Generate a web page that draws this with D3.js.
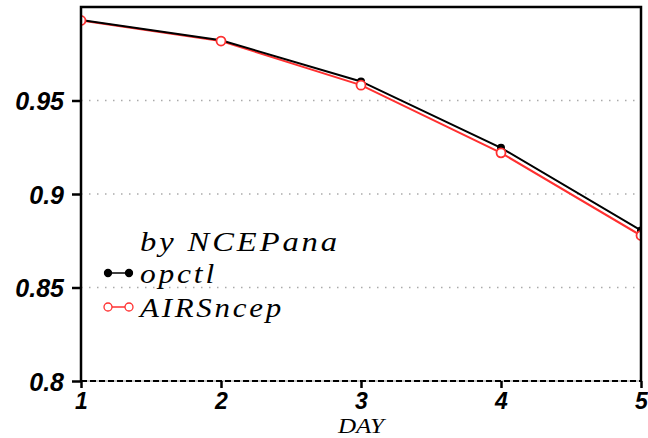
<!DOCTYPE html>
<html>
<head>
<meta charset="utf-8">
<script src="https://cdn.jsdelivr.net/npm/d3@7"></script>
<style>
  body { margin: 0; background: #fff; }
</style>
</head>
<body>
<script>
const width = 648
const height = 438
const margin = {top: 7, right: 7, bottom: 57, left: 81}

// data
const days = [1, 2, 3, 4, 5]
const opctl = [0.993, 0.9822, 0.9602, 0.9247, 0.8805]
const airsncep = [0.9928, 0.9818, 0.9582, 0.9220, 0.8778]
const yTicks = [0.8, 0.85, 0.9, 0.95]
const gridTicks = [0.85, 0.9, 0.95]
const legendTitle = "by NCEPana"
const seriesNames = ["opctl", "AIRSncep"]

let svg = d3.select("body")
    .append("svg")
    .attr("width", width)
    .attr("height", height)

let x = d3.scaleLinear()
    .domain([1, 5])
    .range([margin.left, width - margin.right])

let y = d3.scaleLinear()
    .domain([0.8, 1.0])
    .range([height - margin.bottom, margin.top])

svg.append("clipPath")
    .attr("id", "plotclip")
    .append("rect")
    .attr("x", margin.left)
    .attr("y", margin.top)
    .attr("width", width - margin.left - margin.right)
    .attr("height", height - margin.top - margin.bottom)

// dotted grid
svg.selectAll(".grid")
    .data(gridTicks)
    .enter()
    .append("line")
    .attr("x1", margin.left)
    .attr("x2", width - margin.right)
    .attr("y1", d => y(d))
    .attr("y2", d => y(d))
    .attr("stroke", "#aaa")
    .attr("stroke-width", 1.5)
    .attr("stroke-dasharray", "1.5,6.5")

let plot = svg.append("g").attr("clip-path", "url(#plotclip)")

let line = d3.line()
    .x((d, i) => x(days[i]))
    .y(d => y(d))

plot.append("path")
    .datum(airsncep)
    .attr("d", line)
    .attr("fill", "none")
    .attr("stroke", "#ff3030")
    .attr("stroke-width", 2)

plot.append("path")
    .datum(opctl)
    .attr("d", line)
    .attr("fill", "none")
    .attr("stroke", "black")
    .attr("stroke-width", 2)

plot.selectAll(".dotb")
    .data(opctl)
    .enter()
    .append("circle")
    .attr("cx", (d, i) => x(days[i]))
    .attr("cy", d => y(d))
    .attr("r", 4)
    .attr("fill", "black")

plot.selectAll(".dotr")
    .data(airsncep)
    .enter()
    .append("circle")
    .attr("cx", (d, i) => x(days[i]))
    .attr("cy", d => y(d))
    .attr("r", 4.5)
    .attr("fill", "white")
    .attr("stroke", "#ff3030")
    .attr("stroke-width", 1.8)

// frame
const x0 = margin.left, x1 = width - margin.right
const y0 = margin.top, y1 = height - margin.bottom
svg.append("path")
    .attr("d", `M${x0},${y1} L${x0},${y0} L${x1},${y0} L${x1},${y1}`)
    .attr("fill", "none")
    .attr("stroke", "black")
    .attr("stroke-width", 2.5)

svg.append("line")
    .attr("x1", x0).attr("x2", x1)
    .attr("y1", y1).attr("y2", y1)
    .attr("stroke", "#999")
    .attr("stroke-width", 1)
svg.append("line")
    .attr("x1", x0).attr("x2", x1)
    .attr("y1", y1).attr("y2", y1)
    .attr("stroke", "black")
    .attr("stroke-width", 2)
    .attr("stroke-dasharray", "6,3")

// axes
const tickFont = "'Liberation Sans', Arial, sans-serif"

let yAxis = d3.axisLeft(y)
    .tickValues(yTicks)
    .tickFormat(d => d3.format("")(+d.toFixed(2)))
    .tickSize(9)
    .tickPadding(8)

let gy = svg.append("g")
    .attr("transform", `translate(${margin.left},0)`)
    .call(yAxis)
gy.select(".domain").remove()
gy.selectAll("line").attr("stroke", "black").attr("stroke-width", 2.5)
gy.selectAll("text")
    .attr("fill", "black")
    .attr("dy", "0.36em")
    .style("font-family", tickFont)
    .style("font-size", "25px")
    .style("font-weight", "bold")
    .style("font-style", "italic")

let xAxis = d3.axisBottom(x)
    .tickValues(days)
    .tickFormat(d3.format("d"))
    .tickSize(7)
    .tickPadding(5)

let gx = svg.append("g")
    .attr("transform", `translate(0,${height - margin.bottom})`)
    .call(xAxis)
gx.select(".domain").remove()
gx.selectAll("line").attr("stroke", "black").attr("stroke-width", 2.5)
gx.selectAll("text")
    .attr("fill", "black")
    .style("font-family", tickFont)
    .style("font-size", "23px")
    .style("font-weight", "bold")
    .style("font-style", "italic")

svg.append("text")
    .attr("x", 361)
    .attr("y", 433)
    .attr("text-anchor", "middle")
    .attr("textLength", 46)
    .attr("lengthAdjust", "spacingAndGlyphs")
    .style("font-family", "'Liberation Serif', serif")
    .style("font-style", "italic")
    .style("font-size", "21px")
    .text("DAY")

// legend
const legendFont = "'Liberation Serif', serif"
svg.append("text")
    .attr("x", 140)
    .attr("y", 251)
    .attr("textLength", 200)
    .attr("lengthAdjust", "spacingAndGlyphs")
    .style("font-family", legendFont)
    .style("font-style", "italic")
    .style("font-size", "28px")
    .style("letter-spacing", "2.5px")
    .text(legendTitle)

const legendY = [273, 307]
const legendColors = ["black", "#ff3030"]
const legendLen = [77, 144]

let leg = svg.selectAll(".leg")
    .data(seriesNames)
    .enter()
    .append("g")

leg.append("line")
    .attr("x1", 108).attr("x2", 129)
    .attr("y1", (d, i) => legendY[i])
    .attr("y2", (d, i) => legendY[i])
    .attr("stroke", (d, i) => legendColors[i])
    .attr("stroke-width", 1.5)

leg.selectAll("circle")
    .data((d, i) => [[108, i], [129, i]])
    .enter()
    .append("circle")
    .attr("cx", d => d[0])
    .attr("cy", d => legendY[d[1]])
    .attr("r", d => d[1] == 0 ? 3.5 : 4)
    .attr("fill", d => d[1] == 0 ? "black" : "white")
    .attr("stroke", d => legendColors[d[1]])
    .attr("stroke-width", 1.3)

leg.append("text")
    .attr("x", 140)
    .attr("y", (d, i) => legendY[i] + 10)
    .attr("textLength", (d, i) => legendLen[i])
    .attr("lengthAdjust", "spacingAndGlyphs")
    .style("font-family", legendFont)
    .style("font-style", "italic")
    .style("font-size", "28px")
    .style("letter-spacing", "2.5px")
    .text(d => d)
</script>
</body>
</html>
